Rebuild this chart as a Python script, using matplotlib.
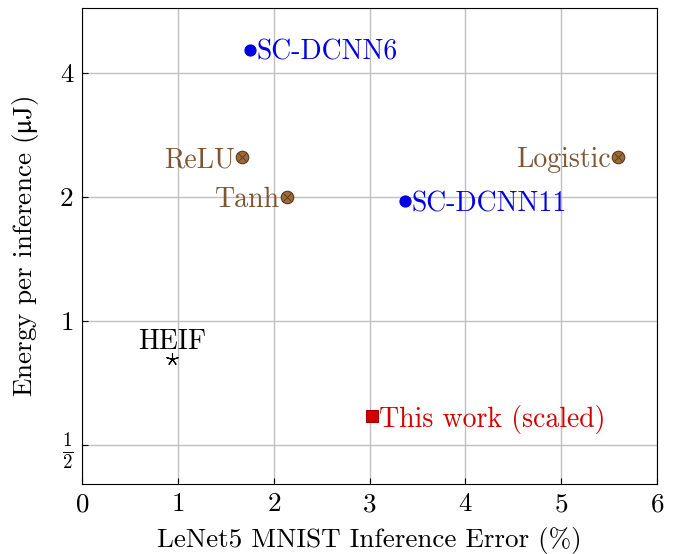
import matplotlib.pyplot as plt

# data
names = ['SC-DCNN6', 'ReLU', 'Tanh', 'Logistic', 'SC-DCNN11', 'HEIF', 'This work (scaled)']
err = [1.75, 1.67, 2.14, 5.59, 3.37, 0.94, 3.03]
energy = [4.55, 2.5, 2.0, 2.5, 1.95, 0.81, 0.588]
ytick_vals = [0.5, 1, 2, 4]
ytick_labels = [r'$\frac{1}{2}$', '1', '2', '4']

plt.rcParams['font.family'] = ['cmr10', 'DejaVu Serif']
plt.rcParams['mathtext.fontset'] = 'cm'
plt.rcParams['axes.formatter.use_mathtext'] = True

blue = '#0000e6'
brown = '#805533'
red = '#d40000'
fs = 19.5

# marker style, label side, label colour per point
styles = {
    'SC-DCNN6': dict(marker='o', mfc=blue, mec=blue, ms=8, color=blue, side='right'),
    'ReLU': dict(marker='o', mfc='#9a6a3a', mec='#5a3a1a', ms=9, color=brown, side='left'),
    'Tanh': dict(marker='o', mfc='#9a6a3a', mec='#5a3a1a', ms=9, color=brown, side='left'),
    'Logistic': dict(marker='o', mfc='#9a6a3a', mec='#5a3a1a', ms=9, color=brown, side='left'),
    'SC-DCNN11': dict(marker='o', mfc=blue, mec=blue, ms=8, color=blue, side='right'),
    'HEIF': dict(marker=(5, 2, 0), mfc='black', mec='black', ms=9, color='black', side='above'),
    'This work (scaled)': dict(marker='s', mfc=red, mec='#a00000', ms=8, color=red, side='right'),
}

fig = plt.figure(figsize=(6.78, 5.54), dpi=100)
ax = fig.add_axes([0.121, 0.126, 0.848, 0.86])

for n, x, y in zip(names, err, energy):
    s = styles[n]
    ax.plot([x], [y], linestyle='none', marker=s['marker'], markerfacecolor=s['mfc'],
            markeredgecolor=s['mec'], markersize=s['ms'], markeredgewidth=0.8, zorder=3)
    if s['marker'] == 'o' and s['color'] == brown:
        ax.plot([x], [y], linestyle='none', marker='x', color='#5a3a1a', markersize=5.5,
                markeredgewidth=0.6, zorder=4)
    if s['side'] == 'right':
        ax.annotate(n, (x, y), xytext=(5, 0), textcoords='offset points', ha='left',
                    va='center_baseline', color=s['color'], fontsize=20)
    elif s['side'] == 'left':
        ax.annotate(n, (x, y), xytext=(-5, 0), textcoords='offset points', ha='right',
                    va='center_baseline', color=s['color'], fontsize=20)
    else:
        ax.annotate(n, (x, y), xytext=(0, 3), textcoords='offset points', ha='center',
                    va='bottom', color=s['color'], fontsize=20)

ax.set_yscale('log', base=2)
ax.set_xlim(0, 6)
ax.set_ylim(0.402, 5.75)
ax.set_yticks(ytick_vals)
ax.set_yticklabels(ytick_labels)
ax.minorticks_off()
ax.set_xticks(range(7))
ax.tick_params(direction='in', labelsize=fs, length=4, pad=6)
ax.grid(True, color='#bfbfbf', linewidth=1)
ax.set_axisbelow(True)
ax.set_xlabel('LeNet5 MNIST Inference Error (%)', fontsize=fs, labelpad=8)
ax.set_ylabel(r'Energy per inference ($\mathrm{\mu}$J)', fontsize=fs, labelpad=14,
              math_fontfamily='stix')

fig.savefig('out.png', dpi=100)
